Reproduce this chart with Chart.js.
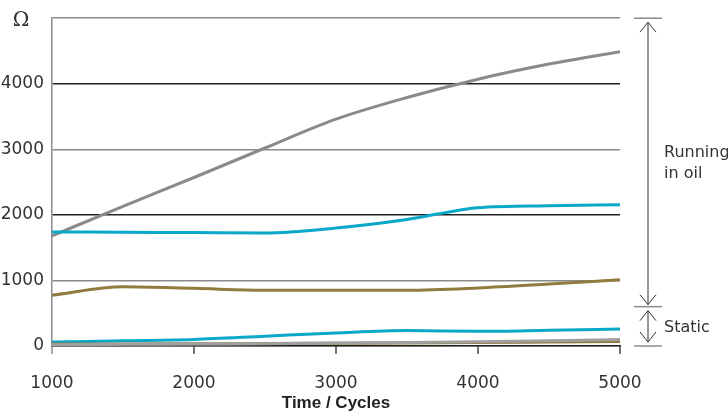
<!DOCTYPE html>
<html>
<head>
<meta charset="utf-8">
<script src="https://cdn.jsdelivr.net/npm/chart.js@4/dist/chart.umd.min.js"></script>
<style>
  html, body { margin: 0; padding: 0; background: #fff; }
  #wrap { width: 728px; height: 414px; }
</style>
</head>
<body>
<div id="wrap"><canvas id="resChart"></canvas></div>
<script>
const cycles = [1000, 1500, 2000, 2500, 3000, 3500, 4000, 4500, 5000];

const grayHigh  = [1680, 2130, 2570, 3020, 3460, 3790, 4070, 4300, 4490];
const cyanHigh  = [1740, 1735, 1730, 1725, 1800, 1930, 2110, 2140, 2155];
const brownMid  = [775, 905, 880, 850, 850, 850, 885, 945, 1010];
const cyanLow   = [60, 80, 100, 150, 200, 235, 225, 240, 258];
const grayLow   = [20, 25, 30, 35, 45, 55, 65, 80, 100];
const brownLow  = [30, 32, 35, 38, 42, 46, 52, 60, 68];

const yTicks = [0, 1000, 2000, 3000, 4000, 5000];
const runningRange = [600, 5000];
const staticRange = [0, 600];

const GRAY = '#8a8a8a';
const CYAN = '#0aa8c8';
const BROWN = '#917b3f';
const TEXT = '#333333';

function pts(vals) {
  return cycles.map((c, i) => ({ x: c, y: vals[i] }));
}

function line(vals, color) {
  return {
    data: pts(vals),
    borderColor: color,
    backgroundColor: color,
    borderWidth: 3,
    pointRadius: 0,
    cubicInterpolationMode: 'monotone',
    fill: false
  };
}

// draws the Ω label, x tick marks and the range arrows on the right
const extras = {
  id: 'extras',
  afterDraw(chart) {
    const c = chart.ctx;
    const y = chart.scales.y;
    const x = chart.scales.x;
    const a = chart.chartArea;
    const ax = a.right + 28;
    c.save();

    c.fillStyle = TEXT;
    c.font = '20px "DejaVu Serif"';
    c.textAlign = 'center';
    c.textBaseline = 'middle';
    c.fillText('Ω', 21, y.getPixelForValue(5000) + 3);

    // x tick marks below the axis
    c.lineWidth = 1.5;
    x.ticks.forEach((t, i) => {
      const px = x.getPixelForValue(t.value);
      c.strokeStyle = i === 0 ? GRAY : '#444';
      c.beginPath();
      c.moveTo(px, a.bottom);
      c.lineTo(px, a.bottom + 8);
      c.stroke();
    });

    // caps
    c.strokeStyle = GRAY;
    c.lineWidth = 1.5;
    [runningRange[1], runningRange[0], staticRange[0]].forEach(v => {
      const py = y.getPixelForValue(v);
      c.beginPath();
      c.moveTo(a.right + 14, py);
      c.lineTo(a.right + 42, py);
      c.stroke();
    });

    c.strokeStyle = TEXT;
    c.lineWidth = 1;
    function arrow(top, bot) {
      c.beginPath();
      c.moveTo(ax, top);
      c.lineTo(ax, bot);
      c.moveTo(ax - 8, top + 10);
      c.lineTo(ax, top);
      c.lineTo(ax + 8, top + 10);
      c.moveTo(ax - 8, bot - 10);
      c.lineTo(ax, bot);
      c.lineTo(ax + 8, bot - 10);
      c.stroke();
    }
    arrow(y.getPixelForValue(runningRange[1]) + 4, y.getPixelForValue(runningRange[0]) - 2);
    arrow(y.getPixelForValue(staticRange[1]) + 4, y.getPixelForValue(staticRange[0]) - 4);

    c.fillStyle = TEXT;
    c.font = '16px "DejaVu Sans"';
    c.textAlign = 'left';
    c.textBaseline = 'middle';
    const mid = y.getPixelForValue(2800);
    c.fillText('Running', a.right + 44, mid - 10);
    c.fillText('in oil', a.right + 44, mid + 11);
    c.fillText('Static', a.right + 44, y.getPixelForValue(270));
    c.restore();
  }
};

new Chart(document.getElementById('resChart'), {
  type: 'line',
  data: {
    datasets: [
      line(grayLow, '#a0a0a0'),
      line(brownLow, BROWN),
      line(cyanLow, CYAN),
      line(brownMid, BROWN),
      line(cyanHigh, CYAN),
      line(grayHigh, GRAY)
    ]
  },
  options: {
    responsive: true,
    maintainAspectRatio: false,
    animation: false,
    layout: { padding: { top: 17, right: 108, left: 0, bottom: 0 } },
    plugins: {
      legend: { display: false },
      tooltip: { enabled: false }
    },
    scales: {
      x: {
        type: 'linear',
        min: 1000,
        max: 5000,
        afterFit(s) { s.height = 68; },
        border: { color: '#222', width: 1.5 },
        grid: { display: false },
        ticks: {
          stepSize: 1000,
          padding: 19,
          color: TEXT,
          maxRotation: 0,
          font: { family: 'DejaVu Sans', size: 17 },
          callback: v => String(v)
        },
        title: {
          display: true,
          text: 'Time / Cycles',
          color: '#222',
          padding: { top: 2, bottom: 0 },
          font: { family: 'Liberation Sans', size: 17, weight: 'bold' }
        }
      },
      y: {
        min: 0,
        max: 5000,
        afterFit(s) { s.width = 52; },
        afterBuildTicks(s) { s.ticks = yTicks.map(v => ({ value: v })); },
        border: { color: GRAY, width: 1.5 },
        grid: {
          drawTicks: false,
          lineWidth: 1.5,
          color: ctx => (ctx.tick && (ctx.tick.value === 2000 || ctx.tick.value === 4000)) ? '#222' : GRAY
        },
        ticks: {
          padding: 8,
          color: TEXT,
          font: { family: 'DejaVu Sans', size: 17 },
          callback: v => (v === 5000 ? '' : String(v))
        }
      }
    }
  },
  plugins: [extras]
});
</script>
</body>
</html>
